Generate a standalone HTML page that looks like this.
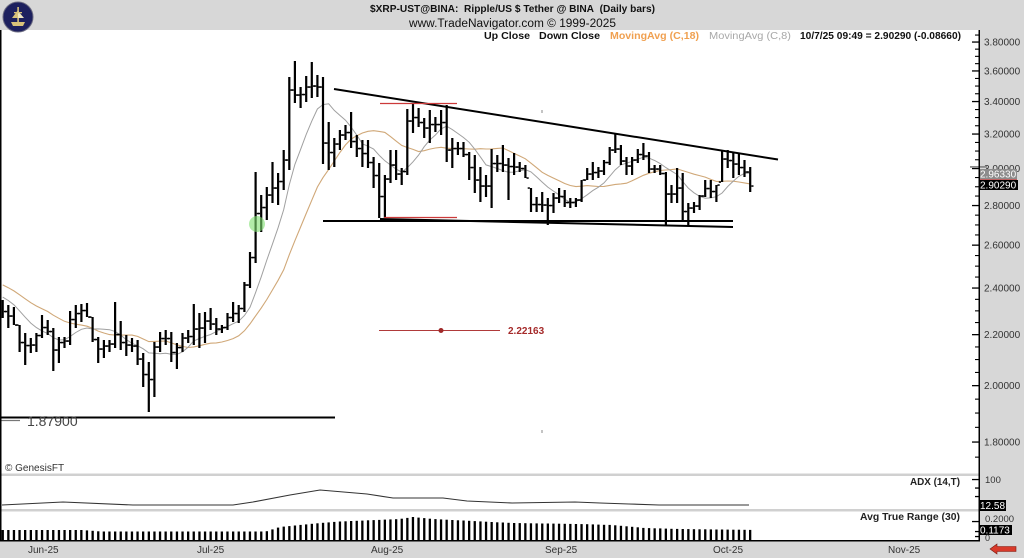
<!DOCTYPE html>
<html><head><meta charset="utf-8">
<style>
html,body{margin:0;padding:0;background:#fff;}
body{width:1024px;height:558px;overflow:hidden;}
svg{display:block;font-family:"Liberation Sans",Arial,sans-serif;}
</style></head><body>
<svg id="c" width="1024" height="558" viewBox="0 0 1024 558" xmlns="http://www.w3.org/2000/svg">
<rect x="0" y="0" width="1024" height="558" fill="#fff"/>
<!-- header -->
<rect x="0" y="0" width="1024" height="30" fill="#d7d7d7"/>
<circle cx="18" cy="17" r="15" fill="#1d205e" stroke="#6a6a80" stroke-width="1"/>
<g fill="#d9c27a" stroke="none">
  <polygon points="11,22 25,22 23,26 13,26"/>
  <rect x="17.3" y="7" width="1.6" height="15"/>
  <polygon points="12,18 18,10 18,18"/>
  <polygon points="24,18 18,11 18,18" fill="#efe6c0"/>
  <rect x="14" y="12" width="8" height="1.3"/>
</g>
<text x="370" y="12" font-size="10" font-weight="bold" fill="#111" textLength="285" lengthAdjust="spacingAndGlyphs">$XRP-UST@BINA:&#160; Ripple/US $ Tether @ BINA&#160; (Daily bars)</text>
<text x="409" y="27" font-size="11.5" fill="#111" textLength="207" lengthAdjust="spacingAndGlyphs">www.TradeNavigator.com © 1999-2025</text>
<!-- legend -->
<g font-size="10.5" font-weight="bold">
<text x="484" y="39" fill="#111" textLength="46" lengthAdjust="spacingAndGlyphs">Up Close</text>
<text x="539" y="39" fill="#111" textLength="61" lengthAdjust="spacingAndGlyphs">Down Close</text>
<text x="610" y="39" fill="#f0a050" textLength="89" lengthAdjust="spacingAndGlyphs">MovingAvg (C,18)</text>
<text x="709" y="39" fill="#a8a8a8" font-weight="normal" textLength="82" lengthAdjust="spacingAndGlyphs">MovingAvg (C,8)</text>
<text x="800" y="39" fill="#111" textLength="161" lengthAdjust="spacingAndGlyphs">10/7/25 09:49 = 2.90290 (-0.08660)</text>
</g>
<g id="dyn"></g>
<!-- static overlays -->
<g id="over">
<line x1="334" y1="89" x2="778" y2="159.5" stroke="#000" stroke-width="2"/>
<line x1="323" y1="221" x2="733" y2="221" stroke="#000" stroke-width="2"/>
<line x1="380" y1="219" x2="733" y2="227" stroke="#000" stroke-width="2"/>
<line x1="380" y1="103.5" x2="457" y2="103.5" stroke="#cc3a3a" stroke-width="1.2"/>
<line x1="384" y1="217.5" x2="457" y2="217.5" stroke="#cc3a3a" stroke-width="1.2"/>
<line x1="379" y1="330.5" x2="500" y2="330.5" stroke="#b03a3a" stroke-width="1"/>
<circle cx="441" cy="330.5" r="2.5" fill="#a02a2a"/>
<text x="508" y="334" font-size="10" font-weight="bold" fill="#a52a2a">2.22163</text>
<rect x="541.5" y="110" width="1" height="3" fill="#888"/>
<rect x="541.5" y="430" width="1" height="3" fill="#888"/>
<circle cx="257" cy="224" r="8" fill="#7fe070" fill-opacity="0.6"/>
<line x1="0" y1="417.5" x2="335" y2="417.5" stroke="#000" stroke-width="2"/>
<line x1="0" y1="420.5" x2="20" y2="420.5" stroke="#777" stroke-width="1.2"/>
<text x="27" y="426" font-size="14" fill="#444">1.87900</text>
<text x="5" y="471" font-size="10" fill="#333">© GenesisFT</text>
</g>
<!-- right axis panel -->
<rect x="980" y="30" width="44" height="511" fill="#d7d7d7"/>
<g id="axis"></g>
<!-- panel separators -->
<rect x="0" y="473.5" width="979" height="2.5" fill="#d0d0d0"/>
<rect x="0" y="509" width="979" height="2.5" fill="#d0d0d0"/>
<g id="lower"></g>
<polyline fill="none" stroke="#333" stroke-width="1.1" points="2,505 63,502 133,505 233,505 253,502 290,495 320,490 367,494 393,498 443,498 467,501 512,503 575,502 600,503 629,504 659,505 732,505 749,505"/>
<text x="910" y="485" font-size="10" font-weight="bold" fill="#222" textLength="50" lengthAdjust="spacingAndGlyphs">ADX (14,T)</text>
<text x="860" y="520" font-size="10" font-weight="bold" fill="#222" textLength="100" lengthAdjust="spacingAndGlyphs">Avg True Range (30)</text>
<!-- bottom band -->
<rect x="0" y="541" width="1024" height="17" fill="#d7d7d7"/>
<rect x="0" y="540" width="980" height="1.5" fill="#000"/>
<rect x="0" y="30" width="1.5" height="511" fill="#000"/>
<rect x="978.5" y="30" width="1.5" height="511" fill="#000"/>
<g font-size="10" fill="#333">
<text x="28" y="553">Jun-25</text>
<text x="197" y="553">Jul-25</text>
<text x="371" y="553">Aug-25</text>
<text x="545" y="553">Sep-25</text>
<text x="713" y="553">Oct-25</text>
<text x="888" y="553">Nov-25</text>
</g>
<polygon points="990,549 997,544 997,546.5 1016,546.5 1016,551.5 997,551.5 997,554" fill="#d83a2a" stroke="#7a1a10" stroke-width="0.6"/>
</svg>
<script>
(function(){
var H=[300,305,307,325,333,338,333,315,320,328,337,337,311,305,304,303,317,337,340,340,302,321,335,338,340,353,362,342,332,330,332,343,333,330,304,313,312,308,318,325,313,302,305,
282,252,172,195,187,162,173,150,77,61,87,76,62,75,77,122,138,130,125,112,135,140,140,157,163,175,
150,150,168,109,103,108,118,110,117,110,105,138,142,142,152,155,167,175,149,155,145,158,153,162,165,188,197,192,198,193,188,190,
198,198,180,168,162,167,160,147,133,145,157,157,149,143,152,165,165,172,185,168,173,203,202,195,180,180,185,150,150,153,153,160,167];
var L=[318,328,325,352,365,353,352,338,335,371,363,348,345,328,322,317,342,363,358,352,348,350,356,352,365,387,412,397,352,345,362,369,352,343,345,348,343,330,335,333,330,322,323,
312,288,263,232,220,203,205,190,170,103,108,102,98,97,164,170,167,150,140,148,157,167,168,188,218,218,
183,180,185,175,133,127,138,143,132,135,162,168,155,157,180,193,202,197,208,172,172,200,175,172,178,212,212,212,225,213,203,207,
208,207,202,180,180,178,175,165,153,165,175,175,163,160,173,173,175,225,203,203,220,225,213,210,197,198,202,182,168,178,175,177,192];
var N=Math.min(H.length,L.length);
function X(i){return 2.7+5.62*i;}
function y2p(y){return 3.8*Math.exp(-(y-42)/535.3);}
function p2y(p){return 42+535.3*Math.log(3.8/p);}
var C=[],O=[];
for(var i=0;i<N;i++){
  if(i==N-1){C.push(186);continue;}
  var a=Math.max(H[i],H[i+1]),b=Math.min(L[i],L[i+1]),c;
  if(a<=b){c=(a+b)/2;} else {c=(H[i+1]>L[i])?L[i]:H[i];}
  c=Math.max(H[i],Math.min(L[i],c));
  C.push(c);
}
for(var i=0;i<N;i++){
  var o=(i==0)?(H[0]+L[0])/2:C[i-1];
  o=Math.max(H[i],Math.min(L[i],o));
  O.push(o);
}
var pre=[];
for(var k=0;k<17;k++){pre.push(265+(302-265)*k/16);}
var all=pre.concat(C).map(y2p);
function ma(n){
  var pts=[];
  for(var i=0;i<N;i++){
    var j=i+17,s=0;
    for(var m=0;m<n;m++){s+=all[j-m];}
    pts.push(X(i).toFixed(1)+","+p2y(s/n).toFixed(1));
  }
  return pts.join(" ");
}
var s="";
s+='<polyline fill="none" stroke="#d0a878" stroke-width="1.1" points="'+ma(18)+'"/>';
s+='<polyline fill="none" stroke="#a0a0a0" stroke-width="1" points="'+ma(8)+'"/>';
for(var i=0;i<N;i++){
  var x=X(i);
  s+='<rect x="'+(x-1.1).toFixed(1)+'" y="'+H[i]+'" width="2.2" height="'+(L[i]-H[i])+'" fill="#000"/>';
  s+='<rect x="'+(x-3.3).toFixed(1)+'" y="'+(O[i]-0.75).toFixed(1)+'" width="2.2" height="1.5" fill="#000"/>';
  s+='<rect x="'+(x+1.1).toFixed(1)+'" y="'+(C[i]-0.75).toFixed(1)+'" width="2.2" height="1.5" fill="#000"/>';
}
document.getElementById("dyn").innerHTML=s;
var a="";
function tickY(p){return 42+535.3*Math.log(3.8/p);}
for(var p=1.75;p<=3.86;p+=0.05){
  var pr=Math.round(p*100)/100;var y=tickY(pr);
  if(y<31||y>472)continue;
  var major=Math.abs(Math.round(pr*10)%2)==0 && Math.abs(pr*10-Math.round(pr*10))<0.01;
  if(major){
    a+='<rect x="972" y="'+(y-0.6).toFixed(1)+'" width="7" height="1.3" fill="#000"/>';
    a+='<text x="984" y="'+(y+3.5).toFixed(1)+'" font-size="10" fill="#333">'+pr.toFixed(5)+'</text>';
  } else {
    a+='<rect x="975" y="'+(y-0.5).toFixed(1)+'" width="4" height="1.1" fill="#000"/>';
  }
}
a+='<rect x="970" y="166" width="17" height="1.8" fill="#8a8a8a"/>';
a+='<rect x="979" y="169" width="38" height="10" fill="#8c8c8c"/>';
a+='<text x="980" y="177.5" font-size="10" fill="#fff">2.96330</text>';
a+='<rect x="979" y="179" width="38" height="1" fill="#c06060"/>';
a+='<rect x="979" y="180" width="39" height="10" fill="#000"/>';
a+='<text x="980" y="188.5" font-size="10" fill="#fff">2.90290</text>';
var ty=[[479.5,1],[488,0],[496.5,0],[521.5,1],[531.5,0],[536.5,0]];
ty.forEach(function(t){a+='<rect x="'+(t[1]?972:975)+'" y="'+(t[0]-0.6)+'" width="'+(t[1]?7:4)+'" height="1.3" fill="#000"/>';});
a+='<text x="985" y="483" font-size="9.5" fill="#333">100</text>';
a+='<rect x="979" y="500" width="27" height="11" fill="#000"/>';
a+='<text x="980" y="509" font-size="10" fill="#fff">12.58</text>';
a+='<text x="985" y="522" font-size="9.5" fill="#333">0.2000</text>';
a+='<rect x="979" y="525" width="33" height="10" fill="#000"/>';
a+='<text x="980" y="533.5" font-size="10" fill="#fff">0.1173</text>';
a+='<text x="985" y="541" font-size="9" fill="#333">0</text>';
document.getElementById("axis").innerHTML=a;
var kp=[[0,530],[83,530],[100,531.5],[266,531.5],[280,527],[300,525],[320,523],[340,521.5],[400,519],[413,517],[433,519],[512,523],[579,524],[612,525],[645,528],[679,529],[760,530]];
function interp(x){
  for(var k=0;k<kp.length-1;k++){
    if(x>=kp[k][0]&&x<=kp[k+1][0]){var t=(x-kp[k][0])/(kp[k+1][0]-kp[k][0]);return kp[k][1]+t*(kp[k+1][1]-kp[k][1]);}
  }
  return kp[kp.length-1][1];
}
var b="";
for(var i=0;i<N;i++){
  var x=X(i),yt=interp(x);
  b+='<rect x="'+(x-1.15).toFixed(1)+'" y="'+yt.toFixed(1)+'" width="2.3" height="'+(541-yt).toFixed(1)+'" fill="#000"/>';
}
document.getElementById("lower").innerHTML=b;
})();
</script>
</body></html>
